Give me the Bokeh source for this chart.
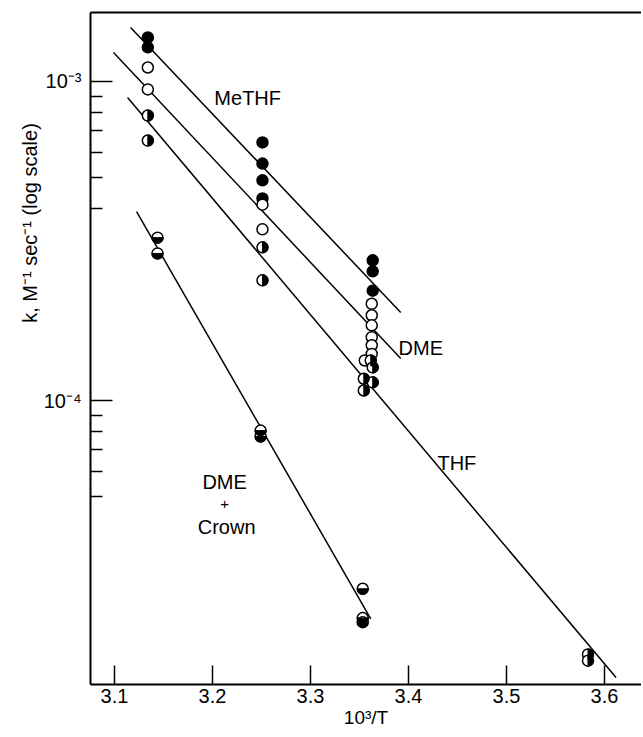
from math import pi
from bokeh.plotting import figure
from bokeh.models import Range1d, FixedTicker, CustomJSTickFormatter, Label, LinearAxis, Title
from bokeh.embed import file_html
from bokeh.resources import INLINE

# ---- data ----
x_ticks = [3.1, 3.2, 3.3, 3.4, 3.5, 3.6]
y_major_ticks = [1e-4, 1e-3]
y_minor_ticks = [5e-5, 6e-5, 7e-5, 8e-5, 9e-5, 4e-4, 5e-4, 6e-4, 7e-4, 8e-4, 9e-4]

methf_x = [3.134, 3.134, 3.251, 3.251, 3.251, 3.251, 3.3635, 3.3635, 3.3635]
methf_k = [1.373e-3, 1.279e-3, 6.44e-4, 5.53e-4, 4.90e-4, 4.30e-4, 2.75e-4, 2.54e-4, 2.21e-4]

dme_x = [3.134, 3.134, 3.251, 3.251, 3.3625, 3.3625, 3.3625, 3.3625, 3.3625, 3.3625, 3.3554]
dme_k = [1.106e-3, 9.44e-4, 4.11e-4, 3.44e-4, 2.01e-4, 1.85e-4, 1.72e-4, 1.58e-4, 1.49e-4, 1.40e-4, 1.335e-4]

thf_x = [3.134, 3.134, 3.251, 3.251, 3.3615, 3.3635, 3.3544, 3.3635, 3.3544, 3.5832, 3.5832]
thf_k = [7.82e-4, 6.53e-4, 3.02e-4, 2.38e-4, 1.335e-4, 1.27e-4, 1.17e-4, 1.14e-4, 1.075e-4, 1.60e-5, 1.53e-5]

crown_x = [3.1439, 3.1439, 3.2491, 3.2491, 3.3533, 3.3533, 3.3533]
crown_k = [3.24e-4, 2.89e-4, 8.05e-5, 7.71e-5, 2.57e-5, 2.08e-5, 2.02e-5]

# fitted lines (end points)
methf_fit_x = [3.1164, 3.3921]
methf_fit_k = [1.476e-3, 1.888e-4]
dme_fit_x = [3.0990, 3.3921]
dme_fit_k = [1.233e-3, 1.354e-4]
thf_fit_x = [3.1133, 3.6118]
thf_fit_k = [8.91e-4, 1.354e-5]
crown_fit_x = [3.1225, 3.3615]
crown_fit_k = [3.91e-4, 2.07e-5]

FONT = "Liberation Sans"

p = figure(width=641, height=736, y_axis_type="log",
           x_range=Range1d(3.0755, 3.6378), y_range=Range1d(1.288e-5, 1.645e-3),
           output_backend="svg", toolbar_location=None,
           min_border_left=90, min_border_right=0, min_border_top=12, min_border_bottom=52)
p.outline_line_color = None
p.grid.visible = False
p.background_fill_color = "white"

# x axis
p.xaxis.ticker = FixedTicker(ticks=x_ticks)
p.xaxis.major_tick_in = 19
p.xaxis.major_tick_out = 0
p.xaxis.minor_tick_line_color = None
p.xaxis.major_label_text_font_size = "20px"
p.xaxis.major_label_text_font = FONT
p.xaxis.major_label_text_color = "black"
p.xaxis.major_label_standoff = 4
p.xaxis.axis_label = "10\u00b3/T"
p.xaxis.axis_label_text_font = FONT
p.xaxis.axis_label_text_font_size = "19px"
p.xaxis.axis_label_text_font_style = "normal"
p.xaxis.axis_label_text_color = "black"
p.xaxis.axis_label_standoff = 1

# y axis
p.yaxis.ticker = FixedTicker(ticks=y_major_ticks, minor_ticks=y_minor_ticks)
p.yaxis.formatter = CustomJSTickFormatter(code="return tick < 5e-4 ? '10\u207b\u2074' : '10\u207b\u00b3'")
p.yaxis.major_tick_in = 22
p.yaxis.major_tick_out = 0
p.yaxis.minor_tick_in = 12
p.yaxis.minor_tick_out = 0
p.yaxis.major_label_text_font_size = "20px"
p.yaxis.major_label_text_font = FONT
p.yaxis.major_label_text_color = "black"
p.yaxis.major_label_standoff = 9

for ax in (p.xaxis, p.yaxis):
    ax.axis_line_width = 2
    ax.axis_line_color = "black"
    ax.major_tick_line_width = 1.5
    ax.major_tick_line_color = "black"
    ax.minor_tick_line_width = 1.5
    ax.minor_tick_line_color = "black"

top = LinearAxis(ticker=FixedTicker(ticks=[]), major_label_text_font_size="0px",
                 major_tick_in=0, major_tick_out=0, minor_tick_in=0, minor_tick_out=0,
                 axis_line_width=2, major_label_standoff=0)
p.add_layout(top, "above")

# y axis title: its top end sits below the frame top, as in the reference
ytitle = Title(text="k,  M\u207b\u00b9  sec\u207b\u00b9  (log scale)", align="right", offset=94,
               text_font=FONT, text_font_size="20px", text_font_style="normal",
               text_color="black", standoff=0)
p.add_layout(ytitle, "left")

# fitted lines
for fx, fk in ((methf_fit_x, methf_fit_k), (dme_fit_x, dme_fit_k),
               (thf_fit_x, thf_fit_k), (crown_fit_x, crown_fit_k)):
    p.line(fx, fk, line_color="black", line_width=1.5)

R = 5.5
# MeTHF: filled
p.scatter(methf_x, methf_k, marker="circle", size=2 * R, fill_color="black",
          line_color="black", line_width=1.5)
# DME: open
p.scatter(dme_x, dme_k, marker="circle", size=2 * R, fill_color="white",
          line_color="black", line_width=1.5)
# THF: right half filled
p.scatter(thf_x, thf_k, marker="circle", size=2 * R, fill_color="white",
          line_color="black", line_width=1.5)
p.wedge(x=thf_x, y=thf_k, radius=R, radius_units="screen",
        start_angle=-pi / 2, end_angle=pi / 2, fill_color="black", line_color="black")
# DME + Crown: bottom half filled
p.scatter(crown_x, crown_k, marker="circle", size=2 * R, fill_color="white",
          line_color="black", line_width=1.5)
p.wedge(x=crown_x, y=crown_k, radius=R, radius_units="screen",
        start_angle=pi, end_angle=2 * pi, fill_color="black", line_color="black")

def lab(x, y, text, size="20px", style="normal", align="center"):
    p.add_layout(Label(x=x, y=y, text=text, text_font=FONT, text_font_size=size,
                       text_font_style=style, text_align=align, text_baseline="middle",
                       text_color="black"))

lab(3.2359, 8.85e-4, "MeTHF")
lab(3.4126, 1.466e-4, "DME")
lab(3.4494, 6.39e-5, "THF")
lab(3.2124, 5.57e-5, "DME")
lab(3.2124, 4.75e-5, "+", size="15px")
lab(3.2144, 4.0e-5, "Crown")

open("out.html", "w").write(file_html(p, INLINE))
